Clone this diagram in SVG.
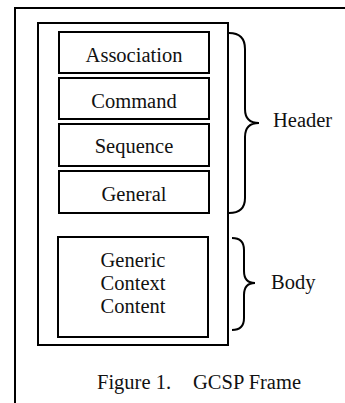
<svg xmlns="http://www.w3.org/2000/svg" width="345" height="403" viewBox="0 0 345 403">
<style>
.box{fill:none;stroke:#000;stroke-width:2}
.frame{fill:none;stroke:#000;stroke-width:2}
.br{fill:none;stroke:#000;stroke-width:2;stroke-linecap:butt}
text{font-family:"Liberation Serif","Times New Roman",serif;font-size:20.5px;fill:#111}
.c{text-anchor:middle}
</style>
<rect width="345" height="403" fill="#fff"/>
<g id="outer-frame"><path class="frame" d="M15,403 V8 H345"/></g>
<g id="frame"><rect class="frame" x="38" y="23" width="190" height="322"/></g>
<g id="association"><rect class="box" x="59" y="32" width="150" height="41"/><text class="c" x="134" y="62">Association</text></g>
<g id="command"><rect class="box" x="59" y="78" width="150" height="41"/><text class="c" x="134" y="108">Command</text></g>
<g id="sequence"><rect class="box" x="59" y="124" width="150" height="42"/><text class="c" x="134" y="153">Sequence</text></g>
<g id="general"><rect class="box" x="59" y="171" width="150" height="42"/><text class="c" x="134" y="201">General</text></g>
<g id="body-content"><rect class="box" x="58" y="237" width="150" height="100"/><text class="c" x="133" y="267">Generic</text><text class="c" x="133" y="290">Context</text><text class="c" x="133" y="313">Content</text></g>
<g id="connectors">
<path class="br" d="M229,33 Q245,33 245,49 V109 Q245,123 259,123 Q245,123 245,137 V198 Q245,213 229,213"/>
<path class="br" d="M232,238 Q244,238 244,250 V271 Q244,283 255,283 Q244,283 244,295 V318 Q244,330 232,330"/>
</g>
<g id="header-label"><text x="273" y="127">Header</text></g>
<g id="body-label"><text x="271" y="289">Body</text></g>
<g id="caption"><text x="97" y="389">Figure 1.</text><text x="193" y="389">GCSP Frame</text></g>
</svg>
